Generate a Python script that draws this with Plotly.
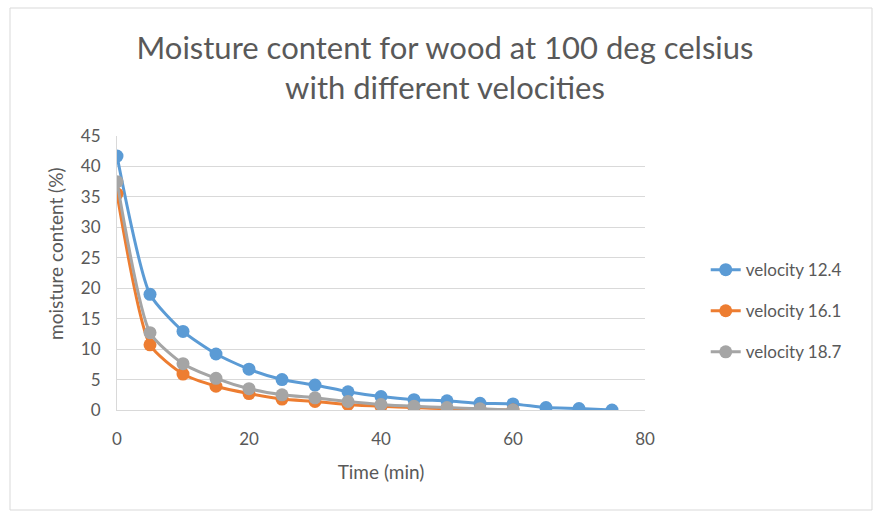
import plotly.graph_objects as go

time_124 = [0, 5, 10, 15, 20, 25, 30, 35, 40, 45, 50, 55, 60, 65, 70, 75]
mc_124 = [41.7, 19.0, 12.9, 9.2, 6.7, 5.0, 4.1, 3.0, 2.2, 1.7, 1.5, 1.1, 1.0, 0.4, 0.25, 0.0]

time_161 = [0, 5, 10, 15, 20, 25, 30, 35, 40, 45, 50, 55, 60]
mc_161 = [35.5, 10.7, 5.9, 3.9, 2.7, 1.8, 1.4, 0.9, 0.6, 0.4, 0.2, 0.1, 0.0]

time_187 = [0, 5, 10, 15, 20, 25, 30, 35, 40, 45, 50, 55, 60]
mc_187 = [37.5, 12.7, 7.6, 5.2, 3.5, 2.5, 2.0, 1.4, 0.9, 0.6, 0.4, 0.2, 0.0]

names = ["velocity 12.4", "velocity 16.1", "velocity 18.7"]
colors = ["#5b9bd5", "#ed7d31", "#a5a5a5"]
series = [(time_124, mc_124), (time_161, mc_161), (time_187, mc_187)]

x_ticks = [0, 20, 40, 60, 80]
y_ticks = [0, 5, 10, 15, 20, 25, 30, 35, 40, 45]

fig = go.Figure()
for i, ((t, m), n, c) in enumerate(zip(series, names, colors)):
    fig.add_trace(go.Scatter(
        x=t, y=m, name=n, mode="lines+markers",
        line=dict(color=c, width=3, shape="spline", smoothing=0.6),
        marker=dict(color=c, size=13),
        legendgroup=f"g{i}",
    ))

font = "Lato, Open Sans, sans-serif"
fig.update_layout(
    width=873, height=511,
    margin=dict(l=117, r=228, t=136, b=101),
    paper_bgcolor="white", plot_bgcolor="white",
    title=dict(
        text="Moisture content for wood at 100 deg celsius<br>with different velocities",
        x=445 / 873, xanchor="center", y=1 - 59 / 511, yanchor="middle",
        font=dict(family=font, size=31, color="#595959"),
    ),
    xaxis=dict(
        range=[0, 80], tickvals=x_ticks, showgrid=False, zeroline=False,
        showline=True, linecolor="#d9d9d9", linewidth=1,
        ticks="", ticklabelstandoff=14, tickfont=dict(family=font, size=17, color="#595959"),
        title=dict(text="Time (min)", font=dict(family=font, size=19, color="#595959"), standoff=17),
    ),
    yaxis=dict(
        range=[0, 45], tickvals=y_ticks, showgrid=True, gridcolor="#d9d9d9", gridwidth=1,
        zeroline=False, showline=True, linecolor="#d9d9d9", linewidth=1,
        ticks="", ticklabelstandoff=12, tickfont=dict(family=font, size=17, color="#595959"),
    ),
    legend=dict(
        x=1.115, y=0.361, xanchor="left", yanchor="middle",
        font=dict(family=font, size=17, color="#595959"),
        tracegroupgap=16, bgcolor="rgba(0,0,0,0)",
    ),
    annotations=[dict(
        text="moisture content (%)", textangle=-90, showarrow=False,
        xref="paper", yref="paper",
        x=(55 - 117) / 528, y=(410 - 254) / 274, xanchor="center", yanchor="middle",
        font=dict(family=font, size=19, color="#595959"),
    )],
    shapes=[dict(
        type="rect", xref="paper", yref="paper",
        x0=(10 - 117) / 528, x1=(872 - 117) / 528,
        y0=(410 - 510) / 274, y1=(410 - 8) / 274,
        line=dict(color="#d9d9d9", width=1), fillcolor="rgba(0,0,0,0)", layer="below",
    )],
)

fig.write_html("out.html")
